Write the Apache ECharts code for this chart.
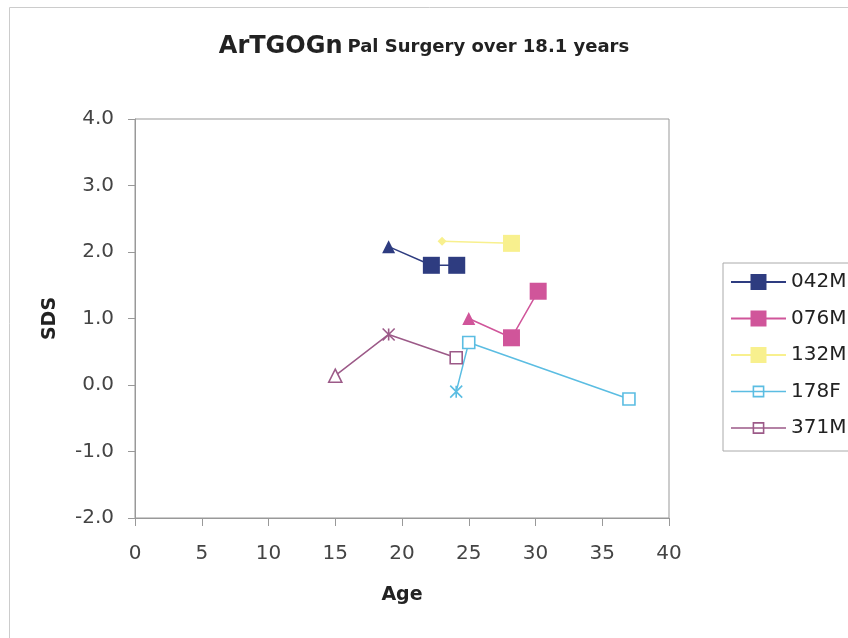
<!DOCTYPE html>
<html>
<head>
<meta charset="utf-8">
<script src="https://cdn.jsdelivr.net/npm/echarts@6/dist/echarts.min.js"></script>
<style>html,body{margin:0;padding:0;background:#fff}#c{width:848px;height:638px}</style>
</head>
<body>
<div id="c"></div>
<script>
// ---- data ----
const seriesNames = ['042M', '076M', '132M', '178F', '371M'];
const age042M = [19.0, 22.2, 24.1];
const sds042M = [2.08, 1.80, 1.80];
const age076M = [25.0, 28.2, 30.2];
const sds076M = [1.00, 0.71, 1.41];
const age132M = [23.0, 28.2];
const sds132M = [2.16, 2.13];
const age178F = [24.06, 25.0, 37.0];
const sds178F = [-0.10, 0.64, -0.21];
const age371M = [15.0, 19.0, 24.06];
const sds371M = [0.14, 0.76, 0.41];
const xTicks = [0, 5, 10, 15, 20, 25, 30, 35, 40];
const yTicks = [-2, -1, 0, 1, 2, 3, 4];

// ---- styles (markers per point) ----
const markers042M = ['triFill', 'sqFill', 'sqFill'];
const markers076M = ['triFill', 'sqFill', 'sqFill'];
const markers132M = ['diamond', 'sqFill'];
const markers178F = ['star', 'sqOpen', 'sqOpen'];
const markers371M = ['triOpen', 'star', 'sqOpen'];

const colors = {
  '042M': '#2e3c80',
  '076M': '#d0559a',
  '132M': '#f8f08e',
  '178F': '#5bbde2',
  '371M': '#9c5a88'
};
const FONT = 'DejaVu Sans';
const STAR = 'path://M0 0L10 10M10 0L0 10M5 0L5 10';
const OPEN_ICON = 'path://M0 5.3H22V6.7H0Z M34 5.3H56V6.7H34Z M22 0H34V12H22Z M23.6 1.6V10.4H32.4V1.6Z M23.6 5.3H32.4V6.7H23.6Z';

function markerItem(kind, c, x, y) {
  const v = [x, y];
  switch (kind) {
    case 'triFill': return {value: v, symbol: 'triangle', symbolSize: 13, itemStyle: {color: c}};
    case 'sqFill': return {value: v, symbol: 'rect', symbolSize: 17, itemStyle: {color: c}};
    case 'diamond': return {value: v, symbol: 'diamond', symbolSize: 9, itemStyle: {color: c}};
    case 'sqOpen': return {value: v, symbol: 'rect', symbolSize: 12, itemStyle: {color: '#fff', borderColor: c, borderWidth: 1.6}};
    case 'triOpen': return {value: v, symbol: 'triangle', symbolSize: 13, itemStyle: {color: '#fff', borderColor: c, borderWidth: 1.6}};
    case 'star': return {value: v, symbol: STAR, symbolSize: 12, itemStyle: {color: 'rgba(0,0,0,0)', borderColor: c, borderWidth: 1.6}};
  }
}

function makeSeries(name, ages, sds, markers, legendSymbol) {
  const c = colors[name];
  return {
    name: name,
    type: 'line',
    symbol: legendSymbol,
    showAllSymbol: true,
    lineStyle: {color: c, width: 1.5},
    itemStyle: {color: c},
    data: ages.map((a, i) => markerItem(markers[i], c, a, sds[i])),
    emphasis: {disabled: true},
    animation: false
  };
}

const series = [
  makeSeries('042M', age042M, sds042M, markers042M, 'rect'),
  makeSeries('076M', age076M, sds076M, markers076M, 'rect'),
  makeSeries('132M', age132M, sds132M, markers132M, 'rect'),
  makeSeries('178F', age178F, sds178F, markers178F, 'emptyRect'),
  makeSeries('371M', age371M, sds371M, markers371M, 'emptyRect')
];

const legendData = seriesNames.map(n => (n === '178F' || n === '371M') ? {name: n, icon: OPEN_ICON} : {name: n});

const chart = echarts.init(document.getElementById('c'), null, {renderer: 'canvas'});
chart.setOption({
  backgroundColor: '#fff',
  animation: false,
  title: {
    left: 'center',
    top: 30,
    text: '{a|ArTGOGn} {b|Pal Surgery over 18.1 years}',
    textStyle: {
      rich: {
        a: {fontFamily: FONT, fontWeight: 'bold', fontSize: 24, color: '#222'},
        b: {fontFamily: FONT, fontWeight: 'bold', fontSize: 18, color: '#222'}
      }
    }
  },
  grid: {left: 135, right: 179, top: 119, bottom: 120, show: true, borderColor: '#999', borderWidth: 1, backgroundColor: '#fff', containLabel: false, outerBoundsMode: 'none'},
  legend: {
    orient: 'vertical',
    left: 723,
    top: 263,
    padding: [9, 10, 13, 7],
    itemWidth: 55,
    itemHeight: 20,
    itemGap: 16.5,
    borderColor: '#aaa',
    borderWidth: 1,
    data: legendData,
    textStyle: {fontFamily: FONT, fontSize: 20, color: '#222'},
    selectedMode: false
  },
  xAxis: {
    type: 'value',
    min: xTicks[0],
    max: xTicks[xTicks.length - 1],
    interval: 5,
    name: 'Age',
    nameLocation: 'middle',
    nameGap: 68,
    nameTextStyle: {fontFamily: FONT, fontWeight: 'bold', fontSize: 19, color: '#222'},
    axisLine: {show: true, onZero: false, lineStyle: {color: '#999'}},
    axisTick: {show: true, length: 8, lineStyle: {color: '#999'}},
    splitLine: {show: false},
    axisLabel: {fontFamily: FONT, fontSize: 20, color: '#444', margin: 26}
  },
  yAxis: {
    type: 'value',
    min: yTicks[0],
    max: yTicks[yTicks.length - 1],
    interval: 1,
    name: 'SDS',
    nameLocation: 'middle',
    nameGap: 75,
    nameRotate: 90,
    nameTextStyle: {fontFamily: FONT, fontWeight: 'bold', fontSize: 19, color: '#222'},
    axisLine: {show: true, onZero: false, lineStyle: {color: '#999'}},
    axisTick: {show: true, length: 7, lineStyle: {color: '#999'}},
    splitLine: {show: false},
    axisLabel: {fontFamily: FONT, fontSize: 20, color: '#444', margin: 21, formatter: v => v.toFixed(1)}
  },
  graphic: [{
    type: 'rect',
    shape: {x: 9.5, y: 7.5, width: 850, height: 640},
    style: {fill: 'none', stroke: '#ccc', lineWidth: 1},
    silent: true,
    z: 100
  }],
  series: series
});
</script>
</body>
</html>
